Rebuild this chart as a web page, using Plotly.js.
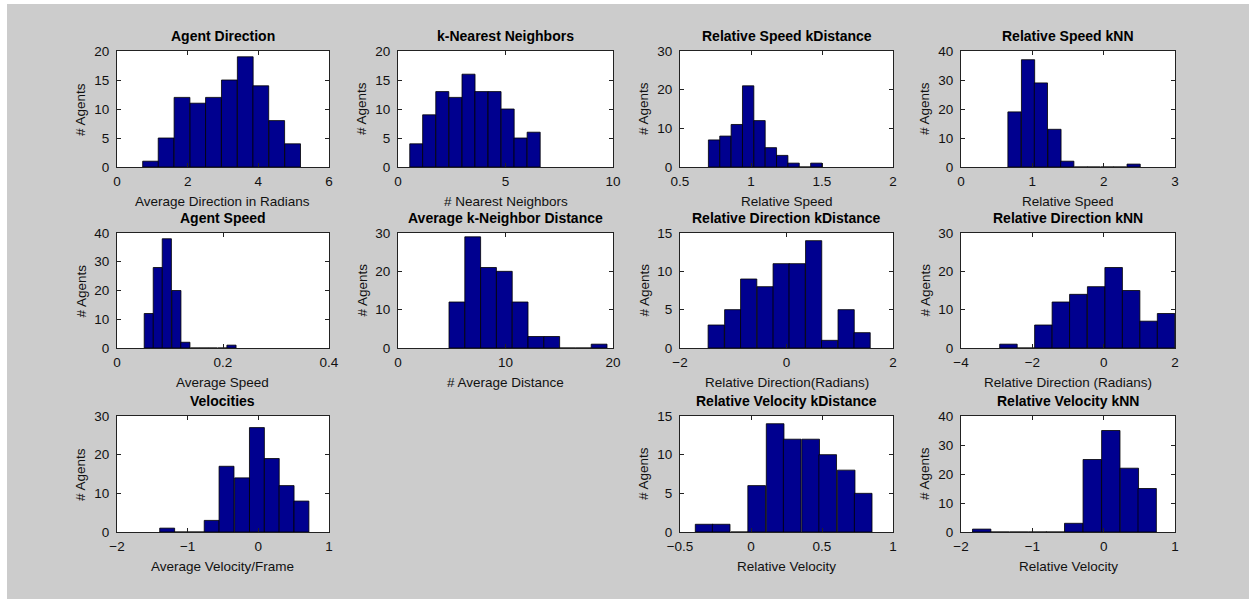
<!DOCTYPE html>
<html>
<head>
<meta charset="utf-8">
<script src="https://cdn.plot.ly/plotly-3.0.1.min.js"></script>
<style>html,body{margin:0;padding:0;background:#fff;}#chart{width:1256px;height:599px;}</style>
</head>
<body>
<div id="chart"></div>
<script>
// ---- data (bin centers and counts) ----
const agentDirBins   = [0.95, 1.39, 1.84, 2.29, 2.73, 3.18, 3.63, 4.07, 4.52, 4.97];
const agentDirCounts = [1, 5, 12, 11, 12, 15, 19, 14, 8, 4];

const knnBins   = [0.85, 1.45, 2.06, 2.67, 3.28, 3.88, 4.49, 5.10, 5.70, 6.31];
const knnCounts = [4, 9, 13, 12, 16, 13, 13, 10, 5, 6];

const relSpeedKDBins   = [0.74, 0.82, 0.90, 0.98, 1.06, 1.14, 1.22, 1.30, 1.38, 1.46];
const relSpeedKDCounts = [7, 8, 11, 21, 12, 5, 3, 1, 0, 1];

const relSpeedKNNBins   = [0.75, 0.94, 1.12, 1.31, 1.49, 1.68, 1.86, 2.05, 2.23, 2.42];
const relSpeedKNNCounts = [19, 37, 29, 13, 2, 0, 0, 0, 0, 1];

const agentSpeedBins   = [0.060, 0.077, 0.094, 0.112, 0.129, 0.147, 0.164, 0.181, 0.199, 0.216];
const agentSpeedCounts = [12, 28, 38, 20, 2, 0, 0, 0, 0, 1];

const avgDistBins   = [5.48, 6.95, 8.42, 9.89, 11.36, 12.83, 14.30, 15.77, 17.24, 18.71];
const avgDistCounts = [12, 29, 21, 20, 12, 3, 3, 0, 0, 1];

const relDirKDBins   = [-1.32, -1.01, -0.71, -0.40, -0.10, 0.20, 0.51, 0.81, 1.12, 1.42];
const relDirKDCounts = [3, 5, 9, 8, 11, 11, 14, 1, 5, 2];

const relDirKNNBins   = [-2.67, -2.18, -1.69, -1.20, -0.71, -0.21, 0.28, 0.77, 1.26, 1.75];
const relDirKNNCounts = [1, 0, 6, 12, 14, 16, 21, 15, 7, 9];

const velBins   = [-1.29, -1.08, -0.87, -0.66, -0.45, -0.23, -0.02, 0.19, 0.40, 0.61];
const velCounts = [1, 0, 0, 3, 17, 14, 27, 19, 12, 8];

const relVelKDBins   = [-0.33, -0.21, -0.08, 0.04, 0.17, 0.29, 0.42, 0.54, 0.67, 0.79];
const relVelKDCounts = [1, 1, 0, 6, 14, 12, 12, 10, 8, 5];

const relVelKNNBins   = [-1.71, -1.45, -1.19, -0.93, -0.68, -0.42, -0.16, 0.10, 0.36, 0.61];
const relVelKNNCounts = [1, 0, 0, 0, 0, 3, 25, 35, 22, 15];

// ---- panel definitions ----
const panels = [
  {title:'Agent Direction', xlab:'Average Direction in Radians', bins:agentDirBins, counts:agentDirCounts, col:0,row:0, xr:[0,6], xd:2, yr:[0,20], yd:5},
  {title:'k-Nearest Neighbors', xlab:'# Nearest Neighbors', bins:knnBins, counts:knnCounts, col:1,row:0, xr:[0,10], xd:5, yr:[0,20], yd:5},
  {title:'Relative Speed kDistance', xlab:'Relative Speed', bins:relSpeedKDBins, counts:relSpeedKDCounts, col:2,row:0, xr:[0.5,2], xd:0.5, yr:[0,30], yd:10},
  {title:'Relative Speed kNN', xlab:'Relative Speed', bins:relSpeedKNNBins, counts:relSpeedKNNCounts, col:3,row:0, xr:[0,3], xd:1, yr:[0,40], yd:10},
  {title:'Agent Speed', xlab:'Average Speed', bins:agentSpeedBins, counts:agentSpeedCounts, col:0,row:1, xr:[0,0.4], xd:0.2, yr:[0,40], yd:10},
  {title:'Average k-Neighbor Distance', xlab:'# Average Distance', bins:avgDistBins, counts:avgDistCounts, col:1,row:1, xr:[0,20], xd:10, yr:[0,30], yd:10},
  {title:'Relative Direction kDistance', xlab:'Relative Direction(Radians)', bins:relDirKDBins, counts:relDirKDCounts, col:2,row:1, xr:[-2,2], xd:2, yr:[0,15], yd:5},
  {title:'Relative Direction kNN', xlab:'Relative Direction (Radians)', bins:relDirKNNBins, counts:relDirKNNCounts, col:3,row:1, xr:[-4,2], xd:2, yr:[0,30], yd:10},
  {title:'Velocities', xlab:'Average Velocity/Frame', bins:velBins, counts:velCounts, col:0,row:2, xr:[-2,1], xd:1, yr:[0,30], yd:10},
  {title:'Relative Velocity kDistance', xlab:'Relative Velocity', bins:relVelKDBins, counts:relVelKDCounts, col:2,row:2, xr:[-0.5,1], xd:0.5, yr:[0,15], yd:5},
  {title:'Relative Velocity kNN', xlab:'Relative Velocity', bins:relVelKNNBins, counts:relVelKNNCounts, col:3,row:2, xr:[-2,1], xd:1, yr:[0,40], yd:10}
];

// ---- layout geometry (pixels) ----
const W = 1256, H = 599;
const colsPx = [[117,329],[398,613],[680,893],[961,1175]];
const rowsPx = [[51,167],[233,348],[416,532]];
const px = v => v / W;
const py = v => 1 - v / H;

const FONT = '"Liberation Sans", Arial, Helvetica, sans-serif';
const traces = [];
const layout = {
  width: W, height: H,
  margin: {l:0, r:0, t:0, b:0},
  paper_bgcolor: '#cccccc',
  plot_bgcolor: '#ffffff',
  showlegend: false,
  bargap: 0,
  font: {family: FONT, size: 13, color: '#000'},
  annotations: [],
  shapes: [
    {type:'rect', xref:'paper', yref:'paper', x0:0, x1:px(7), y0:0, y1:1, fillcolor:'#fff', line:{width:0}},
    {type:'rect', xref:'paper', yref:'paper', x0:px(1249), x1:1, y0:0, y1:1, fillcolor:'#fff', line:{width:0}},
    {type:'rect', xref:'paper', yref:'paper', x0:0, x1:1, y0:py(4), y1:1, fillcolor:'#fff', line:{width:0}}
  ]
};

panels.forEach((p, i) => {
  const n = i + 1;
  const xa = 'xaxis' + (n === 1 ? '' : n);
  const ya = 'yaxis' + (n === 1 ? '' : n);
  const xr = 'x' + (n === 1 ? '' : n);
  const yr = 'y' + (n === 1 ? '' : n);
  const width = (p.bins[p.bins.length - 1] - p.bins[0]) / (p.bins.length - 1);
  traces.push({
    type: 'bar', x: p.bins, y: p.counts, xaxis: xr, yaxis: yr,
    width: width,
    marker: {color: '#00008f', line: {color: '#000000', width: 0.8}},
    hoverinfo: 'x+y'
  });
  const c = colsPx[p.col], r = rowsPx[p.row];
  const axCommon = {
    showgrid: false, zeroline: false, showline: true, linecolor: '#222', linewidth: 1,
    mirror: 'ticks', ticks: 'inside', ticklen: 4, tickcolor: '#222', tickwidth: 1,
    tickfont: {family: FONT, size: 13.5, color: '#111'}, fixedrange: true
  };
  layout[xa] = Object.assign({}, axCommon, {
    domain: [px(c[0]), px(c[1])], range: p.xr, dtick: p.xd, tick0: p.xr[0],
    anchor: yr, ticklabelstandoff: 2
  });
  layout[ya] = Object.assign({}, axCommon, {
    domain: [py(r[1]), py(r[0])], range: p.yr, dtick: p.yd, tick0: 0,
    anchor: xr, ticklabelstandoff: 4
  });
  const cx = px((c[0] + c[1]) / 2);
  // panel title
  layout.annotations.push({
    text: '<b>' + p.title + '</b>', xref: 'paper', yref: 'paper',
    x: cx, y: py(r[0]), xanchor: 'center', yanchor: 'bottom', yshift: 5,
    showarrow: false, font: {family: FONT, size: 14, color: '#000'}
  });
  // x axis label
  layout.annotations.push({
    text: p.xlab, xref: 'paper', yref: 'paper',
    x: cx, y: py(r[1]), xanchor: 'center', yanchor: 'middle', yshift: -34,
    showarrow: false, font: {family: FONT, size: 13.5, color: '#111'}
  });
  // y axis label
  layout.annotations.push({
    text: '# Agents', xref: 'paper', yref: 'paper', textangle: -90,
    x: px(c[0]), y: py((r[0] + r[1]) / 2), xanchor: 'center', yanchor: 'middle', xshift: -36,
    showarrow: false, font: {family: FONT, size: 13.5, color: '#111'}
  });
});

Plotly.newPlot('chart', traces, layout, {displayModeBar: false, staticPlot: true});
</script>
</body>
</html>
